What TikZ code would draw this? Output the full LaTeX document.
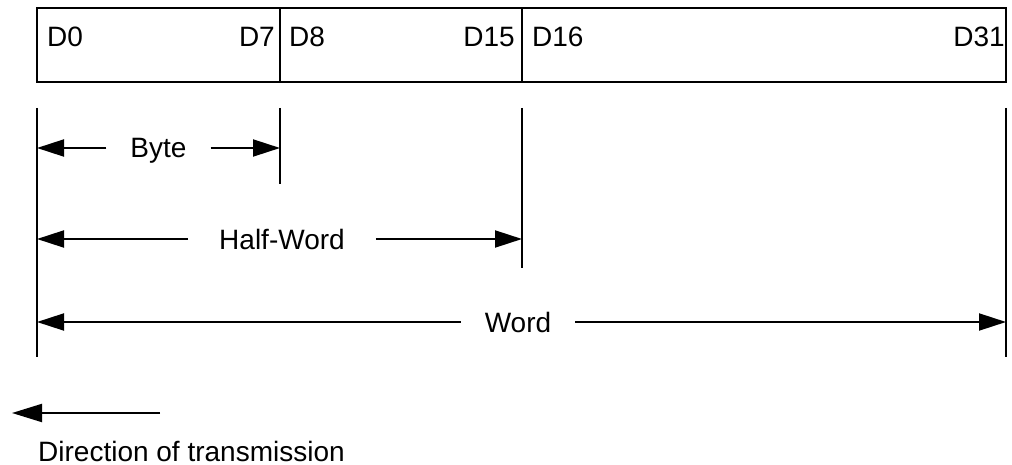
\documentclass[tikz,border=0pt]{standalone}
\usepackage{fontspec}
\setmainfont{Liberation Sans}
\usetikzlibrary{arrows.meta}
\begin{document}
\begin{tikzpicture}[x=1pt,y=-1pt,
  cell/.style={draw,line width=2.2pt,minimum height=74pt,inner sep=0pt},
  bitlbl/.style={font=\fontsize{28}{32}\selectfont,inner sep=0pt},
  dimlbl/.style={font=\fontsize{28}{32}\selectfont,inner ysep=0pt,text height=20pt,text depth=0pt,anchor=center},
  extline/.style={line width=2pt},
  dimarrow/.style={line width=2pt,-{Triangle[length=27pt,width=17pt]}},
  dirarrow/.style={line width=2pt,-{Triangle[length=30pt,width=18pt]}}]
\useasboundingbox (0,0) rectangle (1012,465);
% register cells
\node[cell,minimum width=243pt] (c1) at (158.5,45) {};
\node[cell,minimum width=242pt] (c2) at (401,45) {};
\node[cell,minimum width=484pt] (c3) at (764,45) {};
% bit labels
\node[bitlbl,anchor=base west] (d0) at (47,47) {D0};
\node[bitlbl,anchor=base east] (d7) at (275,47) {D7};
\node[bitlbl,anchor=base west] (d8) at (289,47) {D8};
\node[bitlbl,anchor=base east] (d15) at (515,47) {D15};
\node[bitlbl,anchor=base west] (d16) at (532,47) {D16};
\node[bitlbl,anchor=base east] (d31) at (1005,47) {D31};
% extension lines
\coordinate (v0t) at (37,108);  \coordinate (v0b) at (37,357);
\coordinate (v1t) at (280,108); \coordinate (v1b) at (280,184);
\coordinate (v2t) at (522,108); \coordinate (v2b) at (522,268);
\coordinate (v3t) at (1006,108); \coordinate (v3b) at (1006,357);
\draw[extline] (v0t) -- (v0b);
\draw[extline] (v1t) -- (v1b);
\draw[extline] (v2t) -- (v2b);
\draw[extline] (v3t) -- (v3b);
% dimension labels
\node[dimlbl,inner xsep=24pt] (byte) at (158.5,148) {Byte};
\node[dimlbl,inner xsep=31pt] (half) at (282,239) {Half-Word};
\node[dimlbl,inner xsep=24pt] (word) at (518,322) {Word};
% dimension arrows
\draw[dimarrow] (byte.west) -- (v0t|-byte.west);
\draw[dimarrow] (byte.east) -- (v1t|-byte.east);
\draw[dimarrow] (half.west) -- (v0t|-half.west);
\draw[dimarrow] (half.east) -- (v2t|-half.east);
\draw[dimarrow] (word.west) -- (v0t|-word.west);
\draw[dimarrow] (word.east) -- (v3t|-word.east);
% direction of transmission
\coordinate (dirs) at (160,413);
\coordinate (dire) at (12,413);
\draw[dirarrow] (dirs) -- (dire);
\node[bitlbl,anchor=base west,text depth=0pt] (dirtxt) at (38,461) {Direction of transmission};
\end{tikzpicture}
\end{document}
